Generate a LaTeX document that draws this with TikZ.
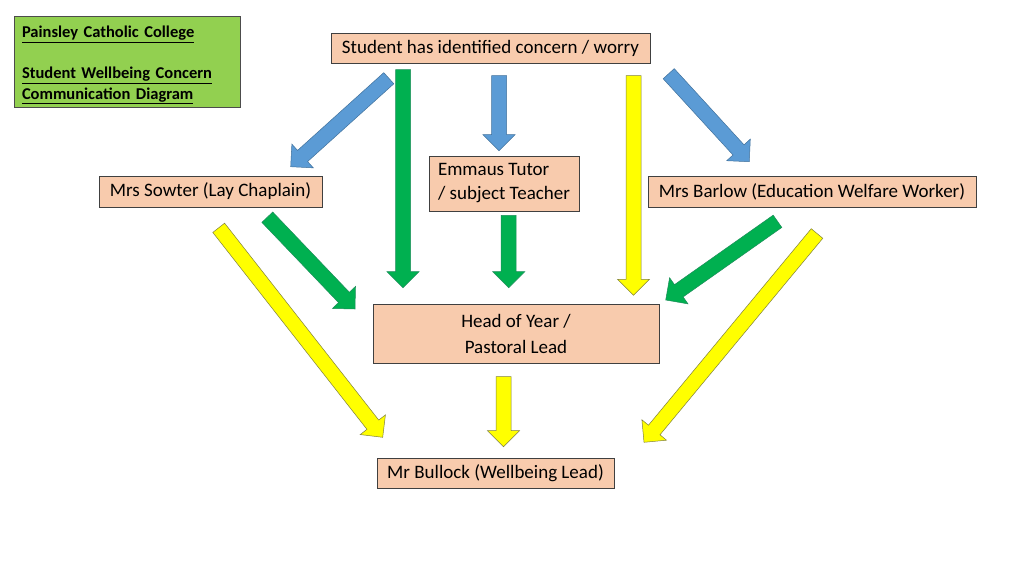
\documentclass[tikz,border=0pt]{standalone}
\usepackage{fontspec}
\setmainfont{Carlito}
\usepackage{xcolor}
\definecolor{peach}{HTML}{F8CBAD}
\definecolor{ttlgreen}{HTML}{92D050}
\definecolor{bblue}{HTML}{5B9BD5}
\definecolor{bbluel}{HTML}{41719C}
\definecolor{ggreen}{HTML}{00B050}
\definecolor{ggreenl}{HTML}{1E8C5A}
\definecolor{yyellow}{HTML}{FFFF00}
\definecolor{yyellowl}{HTML}{7F7F3F}
\usepackage{tikz}
\usetikzlibrary{calc}
\usetikzlibrary{positioning}

% block arrow from #2 to tip #3
\newcommand{\blockarrow}[3]{%
  \coordinate (ba-c) at ($(#3)!16pt!(#2)$);
  \draw[#1] ($(#2)!7.5pt!90:(#3)$) -- ($(ba-c)!7.5pt!90:(#3)$) -- ($(ba-c)!16pt!90:(#3)$) -- (#3)
    -- ($(ba-c)!16pt!-90:(#3)$) -- ($(ba-c)!7.5pt!-90:(#3)$) -- ($(#2)!7.5pt!-90:(#3)$) -- cycle;}

\tikzset{
  person/.style={draw=black!75, fill=peach, line width=0.6pt, inner sep=0pt,
    font=\fontsize{19}{24}\selectfont},
  bluearr/.style={fill=bblue, draw=bbluel, line width=0.5pt, line join=miter},
  greenarr/.style={fill=ggreen, draw=ggreenl, line width=0.5pt, line join=miter},
  yellowarr/.style={fill=yyellow, draw=yyellowl, line width=0.5pt, line join=miter}
}

\begin{document}
\begin{tikzpicture}[x=1pt,y=-1pt]
	\useasboundingbox (0,0) rectangle (1024,576);
	% title
	\node (title) at (127,61.5) [draw=black!70, fill=ttlgreen, line width=0.6pt, minimum width=226pt, minimum height=91pt,
		text width=210pt, align=left, inner sep=0pt, font=\fontsize{16.5}{20.5}\selectfont\bfseries]
		{\rule{0pt}{18.5pt}\underline{Painsley Catholic College}\\[20.5pt]\underline{Student Wellbeing Concern}\\\underline{Communication Diagram}};
	% boxes
	\node (student) at (490.5,48) [person, minimum width=319pt, minimum height=30pt] {Student has identified concern / worry};
	\node (sowter) at (210.5,191.5) [person, minimum width=223pt, minimum height=31pt] {Mrs Sowter (Lay Chaplain)};
	\node (emmaus) at (504,183.5) [person, minimum width=150pt, minimum height=55pt, align=left] {Emmaus Tutor\\/ subject Teacher};
	\node (barlow) at (812,191.5) [person, minimum width=328pt, minimum height=31pt] {Mrs Barlow (Education Welfare Worker)};
	\node (hoy) at (516,333.5) [person, minimum width=286pt, minimum height=59pt, align=center, font=\fontsize{19}{26}\selectfont] {Head of Year /\\ Pastoral Lead};
	\node (bullock) at (495.5,473) [person, minimum width=237pt, minimum height=30pt] {Mr Bullock (Wellbeing Lead)};
	% arrow ends
	\coordinate (bl1s) at (388.8,78.2);  \coordinate (bl1t) at (290.7,166.7);
	\coordinate (gr1s) at (403,69.5);    \coordinate (gr1t) at (403,287.7);
	\coordinate (bl2s) at (499,75.7);    \coordinate (bl2t) at (499,150.7);
	\coordinate (ye1s) at (633.5,75.7);  \coordinate (ye1t) at (633.5,295.3);
	\coordinate (bl3s) at (668.7,73.7);  \coordinate (bl3t) at (749.3,161.7);
	\coordinate (gr2s) at (267.3,217.2); \coordinate (gr2t) at (355,309);
	\coordinate (ye2s) at (218.7,227.8); \coordinate (ye2t) at (382.7,437.3);
	\coordinate (gr3s) at (508.7,215.3); \coordinate (gr3t) at (508.7,287.7);
	\coordinate (gr4s) at (777.5,221.3); \coordinate (gr4t) at (665.7,300);
	\coordinate (ye3s) at (817,233.5);   \coordinate (ye3t) at (644,442.3);
	\coordinate (ye4s) at (503.5,376.7); \coordinate (ye4t) at (503.5,446.7);
	% arrows
	\blockarrow{bluearr}{bl1s}{bl1t}
	\blockarrow{greenarr}{gr1s}{gr1t}
	\blockarrow{bluearr}{bl2s}{bl2t}
	\blockarrow{yellowarr}{ye1s}{ye1t}
	\blockarrow{bluearr}{bl3s}{bl3t}
	\blockarrow{greenarr}{gr2s}{gr2t}
	\blockarrow{yellowarr}{ye2s}{ye2t}
	\blockarrow{greenarr}{gr3s}{gr3t}
	\blockarrow{greenarr}{gr4s}{gr4t}
	\blockarrow{yellowarr}{ye3s}{ye3t}
	\blockarrow{yellowarr}{ye4s}{ye4t}
\end{tikzpicture}
\end{document}
